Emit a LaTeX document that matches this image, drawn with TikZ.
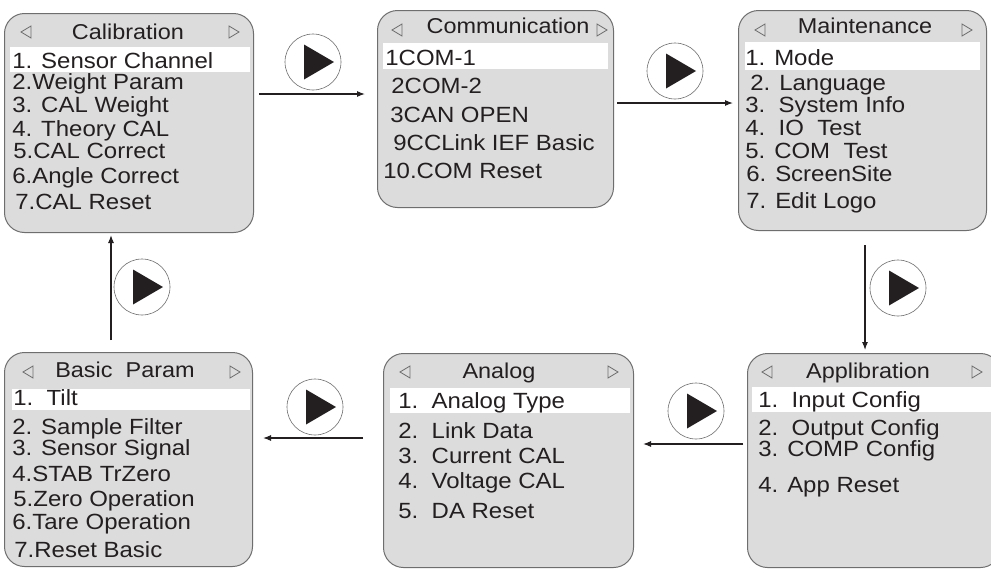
\documentclass[tikz,border=0pt]{standalone}
\usepackage{fontspec}
\setmainfont{Liberation Sans}[FakeStretch=1.09]
\usetikzlibrary{arrows.meta}

\definecolor{panelgray}{RGB}{220,220,220}
\definecolor{edgegray}{RGB}{110,110,110}
\definecolor{inkdark}{RGB}{35,31,32}

\tikzset{
	menubox/.style={draw=edgegray, fill=panelgray, rounded corners=20pt, line width=1pt, anchor=north west, inner sep=0pt},
	menutitle/.style={anchor=base, inner sep=0pt, text=inkdark, font=\fontsize{21.5}{25}\selectfont},
	menuitem/.style={anchor=base west, inner sep=0pt, text=inkdark, font=\fontsize{22}{26}\selectfont},
	navtri/.style={draw=edgegray, line width=0.8pt, line join=miter},
	playring/.style={circle, draw=edgegray, fill=white, line width=0.6pt, minimum size=56pt, inner sep=0pt},
	flow/.style={draw=inkdark, line width=1.1pt, -{Latex[length=8pt,width=6pt]}}}
\tikzset{every picture/.style={line width=0.75pt}}

% small outline arrows in the title row
\newcommand{\navL}[2]{\draw[navtri] (#1+5,#2-6) -- (#1-5,#2) -- (#1+5,#2+6) -- cycle;}
\newcommand{\navR}[2]{\draw[navtri] (#1-5,#2-6) -- (#1+5,#2) -- (#1-5,#2+6) -- cycle;}
% round play button
\newcommand{\playbtn}[3]{\node[playring] (#1) at (#2,#3) {};
	\fill[inkdark] (#2-9,#3-17.5) -- (#2-9,#3+17.5) -- (#2+21,#3) -- cycle;}

\begin{document}
\begin{tikzpicture}[x=1pt,y=1pt,yscale=-1,xscale=1]
	\useasboundingbox (0,0) rectangle (991,568);
	\fill[white] (0,0) rectangle (991,568);

	%Shape: Calibration panel
	\node[menubox, minimum width=249pt, minimum height=219pt] (calib) at (4,13) {};
	\fill[white] (10,47) rectangle (250,72);
	\navL{26}{32} \navR{234}{32}
	% Text Node
	\node[menutitle] (calibT) at (128,39) {Calibration};
	\node[menuitem] (cal1) at (12,68) {1. Sensor Channel};
	\node[menuitem] (cal2) at (12,89) {2.Weight Param};
	\node[menuitem] (cal3) at (12,112) {3. CAL Weight};
	\node[menuitem] (cal4) at (12,136) {4. Theory CAL};
	\node[menuitem] (cal5) at (13,158) {5.CAL Correct};
	\node[menuitem] (cal6) at (12,183) {6.Angle Correct};
	\node[menuitem] (cal7) at (15,209) {7.CAL Reset};

	%Shape: Communication panel
	\node[menubox, minimum width=236pt, minimum height=197pt] (comm) at (377,10) {};
	\fill[white] (383,43) rectangle (608,69);
	\navL{397}{30} \navR{602}{30}
	% Text Node
	\node[menutitle] (commT) at (508,33) {Communication};
	\node[menuitem] (com1) at (385,65) {1COM-1};
	\node[menuitem] (com2) at (391,93) {2COM-2};
	\node[menuitem] (com3) at (390,122) {3CAN OPEN};
	\node[menuitem] (com4) at (393,150) {9CCLink IEF Basic};
	\node[menuitem] (com5) at (383,178) {10.COM Reset};

	%Shape: Maintenance panel
	\node[menubox, minimum width=248pt, minimum height=220pt] (maint) at (738,10) {};
	\fill[white] (745,42) rectangle (980,70);
	\navL{760}{30} \navR{967}{30}
	% Text Node
	\node[menutitle] (maintT) at (865,33) {Maintenance};
	\node[menuitem] (mnt1) at (745,65) {1. Mode};
	\node[menuitem] (mnt2) at (750,90) {2. Language};
	\node[menuitem] (mnt3) at (745,112) {3.\ \ System Info};
	\node[menuitem] (mnt4) at (745,135) {4.\ \ IO\ \ Test};
	\node[menuitem] (mnt5) at (745,158) {5. COM\ \ Test};
	\node[menuitem] (mnt6) at (746,181) {6. ScreenSite};
	\node[menuitem] (mnt7) at (746,208) {7. Edit Logo};

	%Shape: Basic Param panel
	\node[menubox, minimum width=248pt, minimum height=214pt] (basic) at (4,352) {};
	\fill[white] (12,389) rectangle (250,410);
	\navL{28}{372} \navR{235}{372}
	% Text Node
	\node[menutitle] (basicT) at (125,377) {Basic\ \ Param};
	\node[menuitem] (bas1) at (13,405) {1.\ \ Tilt};
	\node[menuitem] (bas2) at (12,434) {2. Sample Filter};
	\node[menuitem] (bas3) at (12,455) {3. Sensor Signal};
	\node[menuitem] (bas4) at (12,481) {4.STAB TrZero};
	\node[menuitem] (bas5) at (13,506) {5.Zero Operation};
	\node[menuitem] (bas6) at (12,529) {6.Tare Operation};
	\node[menuitem] (bas7) at (14,557) {7.Reset Basic};

	%Shape: Analog panel
	\node[menubox, minimum width=250pt, minimum height=214pt] (analog) at (383,353) {};
	\fill[white] (390,388) rectangle (630,413);
	\navL{405}{372} \navR{613}{372}
	% Text Node
	\node[menutitle] (analogT) at (499,378) {Analog};
	\node[menuitem] (ana1) at (398,408) {1.\ \ Analog Type};
	\node[menuitem] (ana2) at (398,438) {2.\ \ Link Data};
	\node[menuitem] (ana3) at (398,463) {3.\ \ Current CAL};
	\node[menuitem] (ana4) at (398,488) {4.\ \ Voltage CAL};
	\node[menuitem] (ana5) at (398,518) {5.\ \ DA Reset};

	%Shape: Applibration panel
	\node[menubox, minimum width=253pt, minimum height=214pt] (appl) at (747,353) {};
	\fill[white] (752,387) rectangle (995,412);
	\navL{767}{372} \navR{977}{372}
	% Text Node
	\node[menutitle] (applT) at (868,378) {Applibration};
	\node[menuitem] (app1) at (758,407) {1.\ \ Input Config};
	\node[menuitem] (app2) at (758,435) {2.\ \ Output Config};
	\node[menuitem] (app3) at (758,456) {3. COMP Config};
	\node[menuitem] (app4) at (758,492) {4. App Reset};

	%Straight Lines: flow between panels
	\coordinate (f1a) at (259,94);  \coordinate (f1b) at (365,94);
	\coordinate (f2a) at (617,103); \coordinate (f2b) at (733,103);
	\coordinate (f3a) at (865,245); \coordinate (f3b) at (865,350);
	\coordinate (f4a) at (743,444); \coordinate (f4b) at (643,444);
	\coordinate (f5a) at (363,438); \coordinate (f5b) at (263,438);
	\coordinate (f6a) at (111,340); \coordinate (f6b) at (111,235);
	\draw[flow] (f1a) -- (f1b);
	\draw[flow] (f2a) -- (f2b);
	\draw[flow] (f3a) -- (f3b);
	\draw[flow] (f4a) -- (f4b);
	\draw[flow] (f5a) -- (f5b);
	\draw[flow] (f6a) -- (f6b);

	%Shape: play buttons
	\playbtn{play1}{313}{62}
	\playbtn{play2}{675}{71}
	\playbtn{play3}{898}{288}
	\playbtn{play4}{696}{411}
	\playbtn{play5}{315}{407}
	\playbtn{play6}{142}{287}

\end{tikzpicture}
\end{document}
